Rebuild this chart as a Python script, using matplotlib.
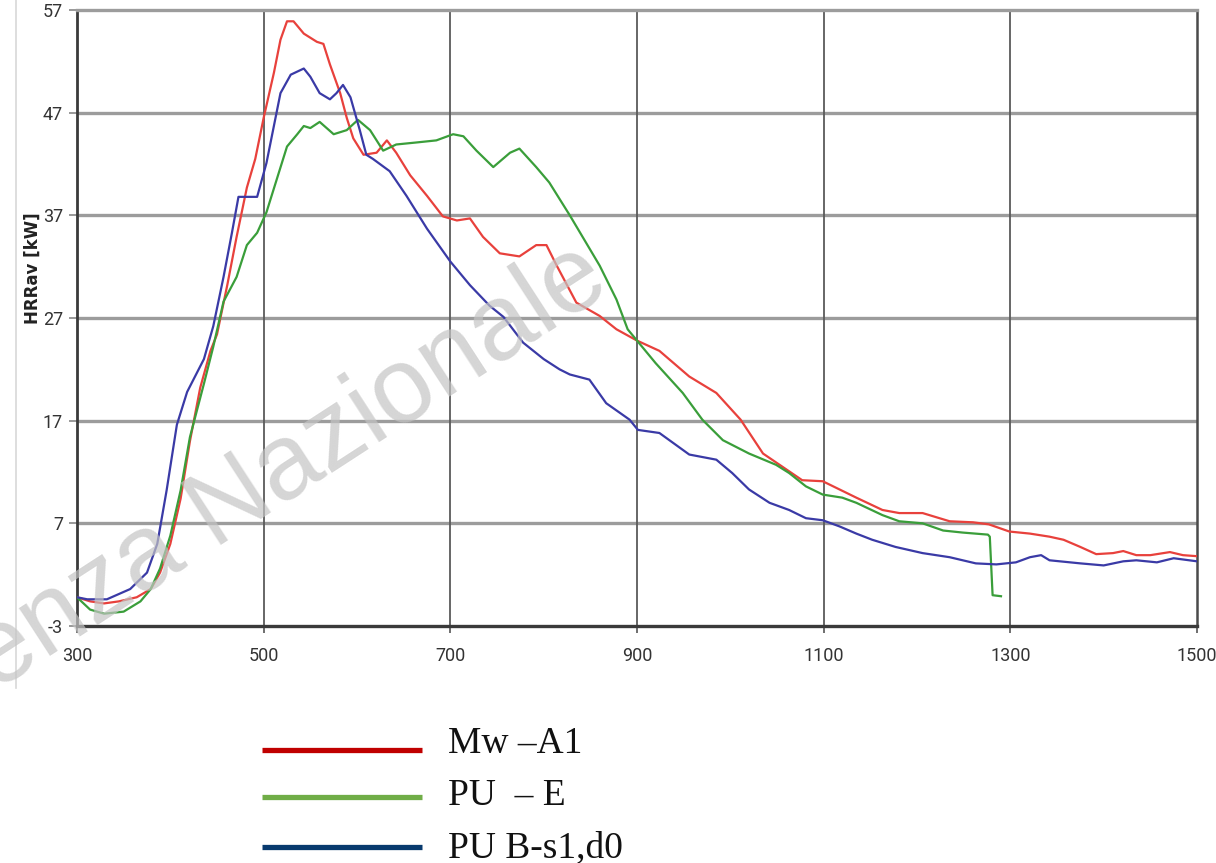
import matplotlib
matplotlib.use("Agg")
import matplotlib.pyplot as plt
from matplotlib.lines import Line2D

# ---- data ----
red_x = [300, 314, 329, 345, 364, 379, 389, 400, 411, 421, 432, 443, 450, 461, 471, 482, 491, 500,
         511, 518, 525, 532, 543, 557, 564, 571, 582, 589, 596, 607, 621, 632, 642, 657, 675, 692,
         707, 721, 735, 753, 774, 792, 803, 814, 835, 860, 878, 900, 924, 956, 985, 1011, 1035,
         1056, 1077, 1099, 1117, 1135, 1163, 1181, 1206, 1235, 1260, 1277, 1299, 1321, 1342, 1357,
         1375, 1392, 1410, 1421, 1435, 1450, 1471, 1485, 1500]
red_y = [-0.2, -0.6, -0.8, -0.6, -0.2, 0.6, 2.2, 5.0, 9.4, 15.0, 20.2, 23.8, 25.4, 30.2, 34.9, 39.7,
         42.5, 46.5, 50.9, 54.1, 55.9, 55.9, 54.7, 53.9, 53.7, 51.7, 48.9, 46.5, 44.5, 42.9, 43.1,
         44.3, 43.1, 40.9, 38.9, 36.9, 36.5, 36.7, 34.9, 33.3, 33.0, 34.1, 34.1, 32.1, 28.5, 27.2,
         25.9, 24.8, 23.8, 21.3, 19.7, 17.1, 13.8, 12.5, 11.2, 11.1, 10.3, 9.5, 8.3, 8.0, 8.0, 7.2,
         7.1, 6.9, 6.2, 6.0, 5.7, 5.4, 4.7, 4.0, 4.1, 4.3, 3.9, 3.9, 4.2, 3.9, 3.8]

green_x = [300, 314, 329, 350, 368, 379, 389, 400, 411, 421, 436, 446, 457, 471, 482, 493, 503, 514,
           525, 536, 543, 550, 560, 575, 589, 601, 614, 628, 642, 664, 685, 703, 714, 728, 746, 764,
           774, 792, 806, 828, 860, 878, 890, 900, 920, 949, 970, 992, 1020, 1049, 1063, 1081, 1099,
           1120, 1135, 1163, 1181, 1206, 1228, 1249, 1276, 1278, 1281, 1290]
green_y = [-0.2, -1.4, -1.8, -1.6, -0.6, 0.6, 2.6, 5.8, 10.2, 15.4, 20.6, 24.2, 28.6, 31.0, 34.1,
           35.3, 37.3, 40.5, 43.7, 44.9, 45.7, 45.5, 46.1, 44.9, 45.3, 46.3, 45.3, 43.3, 43.9, 44.1,
           44.3, 44.9, 44.7, 43.3, 41.7, 43.1, 43.5, 41.7, 40.2, 37.0, 32.1, 28.8, 25.9, 24.8, 22.6,
           19.7, 17.1, 15.1, 13.8, 12.7, 11.9, 10.6, 9.8, 9.5, 9.0, 7.8, 7.2, 7.0, 6.3, 6.1, 5.9,
           5.7, 0.0, -0.1]

blue_x = [300, 311, 332, 357, 375, 386, 396, 407, 418, 436, 446, 457, 466, 473, 493, 503, 518, 529,
          543, 550, 560, 571, 578, 585, 593, 603, 610, 617, 635, 653, 675, 700, 721, 742, 757, 778,
          800, 817, 828, 849, 867, 892, 901, 924, 956, 985, 1002, 1020, 1042, 1063, 1081, 1099,
          1117, 1135, 1152, 1177, 1206, 1235, 1263, 1285, 1306, 1321, 1333, 1342, 1375, 1400, 1421,
          1435, 1457, 1475, 1500]
blue_y = [-0.2, -0.4, -0.4, 0.6, 2.2, 5.0, 10.2, 16.6, 19.8, 23.0, 26.2, 31.0, 35.3, 38.8, 38.8,
          42.1, 48.9, 50.7, 51.3, 50.5, 48.9, 48.3, 48.9, 49.7, 48.5, 45.3, 42.9, 42.5, 41.3, 38.9,
          35.7, 32.5, 30.2, 28.2, 27.1, 24.6, 23.0, 22.0, 21.5, 21.0, 18.7, 17.1, 16.1, 15.8, 13.7,
          13.2, 11.9, 10.3, 9.0, 8.3, 7.5, 7.3, 6.7, 6.0, 5.4, 4.7, 4.1, 3.7, 3.1, 3.0, 3.2, 3.7,
          3.9, 3.4, 3.1, 2.9, 3.3, 3.4, 3.2, 3.6, 3.3]

series_labels = ["Mw \u2013A1", "PU  \u2013 E", "PU B-s1,d0"]
x_ticks = [300, 500, 700, 900, 1100, 1300, 1500]
y_ticks = [-3, 7, 17, 27, 37, 47, 57]
y_label = "HRRav [kW]"
watermark = "enza Nazionale"

# ---- figure ----
W, H = 1216, 863
fig = plt.figure(figsize=(W / 100, H / 100), dpi=100)
fig.patch.set_facecolor("white")

ax = fig.add_axes([77 / W, (H - 626) / H, (1197 - 77) / W, (626 - 10) / H])
ax.set_xlim(300, 1500)
ax.set_ylim(-3, 57)
ax.set_xticks(x_ticks)
ax.set_yticks(y_ticks)

tick_font = dict(family=["Roboto", "DejaVu Sans"], size=13, color="#333333")
ax.set_xticklabels([str(t) for t in x_ticks], **tick_font)
ax.set_yticklabels([str(t) for t in y_ticks], **tick_font)
ax.tick_params(axis="x", direction="out", length=5, width=1.2, color="#555555", pad=10)
ax.tick_params(axis="y", direction="out", length=6, width=1.2, color="#888888", pad=4)

for y in y_ticks[1:-1]:
    ax.axhline(y, color="#9c9c9c", lw=2.4, zorder=1)
for x in x_ticks[1:-1]:
    ax.axvline(x, color="#5a5a5a", lw=1.3, zorder=1)

ax.spines["left"].set_color("#3a3a3a")
ax.spines["left"].set_linewidth(2.0)
ax.spines["bottom"].set_color("#3a3a3a")
ax.spines["bottom"].set_linewidth(2.4)
ax.spines["right"].set_color("#4a4a4a")
ax.spines["right"].set_linewidth(1.8)
ax.spines["top"].set_color("#9c9c9c")
ax.spines["top"].set_linewidth(2.4)

ax.plot(red_x, red_y, color="#e8413c", lw=1.6, zorder=3)
ax.plot(green_x, green_y, color="#3a9e3a", lw=1.6, zorder=3)
ax.plot(blue_x, blue_y, color="#3a3aa6", lw=1.6, zorder=3)

# y label
fig.text(33 / W, 1 - 268 / H, y_label, rotation=90, ha="center", va="center",
         fontsize=12, fontweight="bold", family=["DejaVu Sans"], color="#222222")

# faint border of embedded chart
fig.add_artist(Line2D([16 / W, 16 / W], [1.0, 1 - 688 / H], transform=fig.transFigure,
                      color="#d8d8d8", lw=1.2))

# watermark
fig.text(-6 / W, 1 - 692 / H, watermark, rotation=33, rotation_mode="anchor",
         ha="left", va="baseline", fontsize=77, family=["Liberation Sans", "DejaVu Sans"],
         color="#c4c4c4", alpha=0.7, zorder=10)

# legend (manual, below the plot)
leg_colors = ["#c00000", "#70ad47", "#083a6e"]
line_y = [750, 797, 847]
text_base = [753, 805, 857]
for c, ly, tb, lab in zip(leg_colors, line_y, text_base, series_labels):
    fig.add_artist(Line2D([262 / W, 422 / W], [1 - ly / H, 1 - ly / H],
                          transform=fig.transFigure, color=c, lw=3.8,
                          solid_capstyle="butt"))
    fig.text(448 / W, 1 - tb / H, lab, ha="left", va="baseline", fontsize=27,
             family=["Liberation Serif", "DejaVu Serif"], color="#111111")

fig.savefig("out.png", dpi=100, facecolor="white")
